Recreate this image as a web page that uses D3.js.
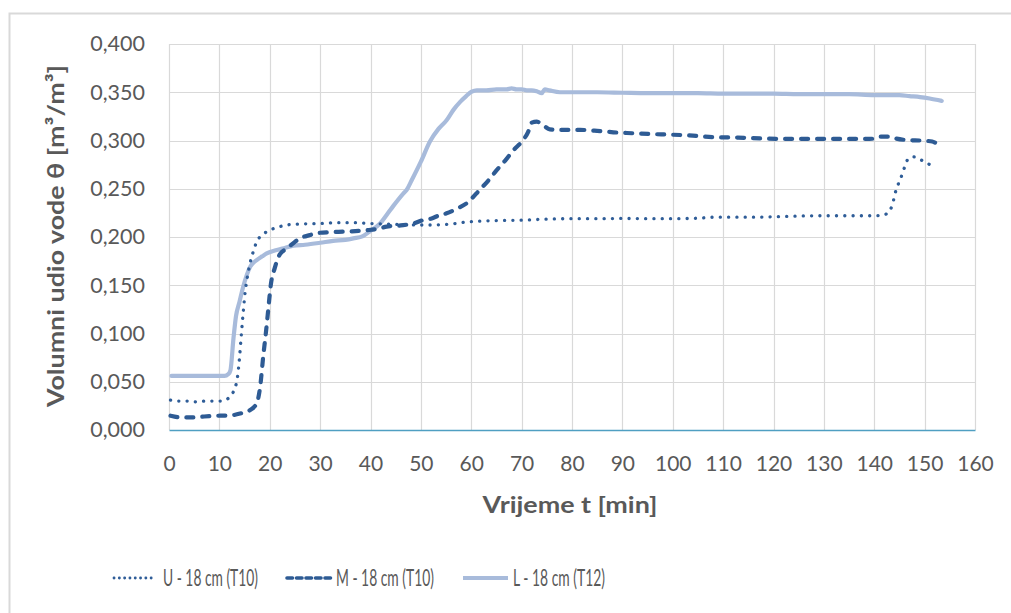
<!DOCTYPE html>
<html><head><meta charset="utf-8">
<script src="https://cdn.jsdelivr.net/npm/d3@7"></script>
<style>
html,body{margin:0;padding:0;background:#fff;}
svg{display:block;}
text{font-family:Lato,"Open Sans",sans-serif;fill:#595959;}
</style></head>
<body>
<svg id="chart" width="1011" height="613"></svg>
<script>
// ---- data ----
const xTicks = [0,10,20,30,40,50,60,70,80,90,100,110,120,130,140,150,160];
const yTicks = [0,0.05,0.1,0.15,0.2,0.25,0.3,0.35,0.4];
const seriesNames = ["U - 18 cm (T10)","M - 18 cm (T10)","L - 18 cm (T12)"];
const xTitle = "Vrijeme t [min]";
const yTitle = "Volumni udio vode θ [m³/m³]";

const uT = [0.3,2,4,5.5,7,9,10.5,11.8,12.8,13.6,14.0,14.3,14.7,15.1,15.6,16.1,16.8,17.4,18.5,20,21.5,23.4,26,30,33,37,40,43,47,51,55,60,65,70,75,80,85,90,95,100,105,108,112,116,120,124,128,132,136,140,141.5,142.6,143.5,144.4,145.2,146,146.6,147.2,147.8,148.5,149.2,150,150.7,151.4,152.1];
const uV = [0.031,0.030,0.030,0.029,0.030,0.030,0.030,0.033,0.040,0.055,0.075,0.095,0.120,0.142,0.160,0.173,0.186,0.195,0.202,0.207,0.210,0.2124,0.2135,0.2140,0.2148,0.2148,0.2140,0.2135,0.2128,0.2124,0.2130,0.2160,0.2170,0.2175,0.2185,0.2190,0.2190,0.2192,0.2190,0.2190,0.2195,0.2205,0.2205,0.2205,0.2210,0.2215,0.2220,0.2220,0.2220,0.2220,0.2225,0.2245,0.232,0.250,0.260,0.272,0.280,0.282,0.283,0.282,0.280,0.278,0.276,0.274,0.272];

const mT = [0.3,2.5,4.8,7,10.1,12,14.1,16.1,17.4,18.1,18.7,19.3,19.8,20.2,21,22,23.4,25,26,28,29.3,32,34.6,37,39.2,41,43.2,46,48.5,50.5,52,53.8,55.1,57,59.1,61.7,63.3,65,66.7,68.4,70.3,71.3,72,73,73.6,74.5,75.6,78,81.6,85,88.2,92,95.5,100,104,108.7,113,118,123.3,128,133,138.5,140,141.1,143.1,144.4,146.4,149.7,151.5,152.4,153.4];
const mV = [0.0148,0.013,0.013,0.014,0.0148,0.015,0.017,0.0207,0.0276,0.045,0.076,0.104,0.130,0.150,0.168,0.182,0.188,0.195,0.1986,0.202,0.204,0.205,0.2055,0.206,0.207,0.208,0.2107,0.212,0.214,0.2176,0.219,0.2228,0.2245,0.229,0.235,0.249,0.258,0.269,0.279,0.290,0.3005,0.309,0.3185,0.3195,0.3185,0.315,0.3115,0.311,0.311,0.310,0.3085,0.3075,0.3067,0.306,0.305,0.3033,0.303,0.302,0.3016,0.3016,0.3016,0.3016,0.302,0.304,0.304,0.302,0.3005,0.2998,0.299,0.297,0.2953];

const lT = [0.5,3,6,9,11,11.8,12.2,12.8,13.3,14.0,14.7,15.4,16.1,17.4,18.5,19.4,21,22.5,24.7,27,30,32.6,35,36.6,38.5,39.9,41.9,43.2,44.5,46.5,47.2,48.2,50,51.8,53.5,55.1,56.5,57.8,59,60.1,61.1,63,65,67,68,69,70,71,72,73,74,74.6,75.5,77.6,80,85,90,95,100,105,110,115,120,125,130,135,140,145,147,149.1,151,153.4];
const lV = [0.056,0.056,0.056,0.056,0.056,0.058,0.062,0.095,0.118,0.133,0.148,0.160,0.169,0.176,0.180,0.183,0.186,0.188,0.191,0.192,0.194,0.196,0.197,0.1986,0.201,0.206,0.214,0.2228,0.232,0.245,0.249,0.259,0.278,0.299,0.312,0.321,0.332,0.340,0.346,0.3506,0.352,0.352,0.353,0.353,0.354,0.353,0.353,0.352,0.352,0.351,0.349,0.353,0.352,0.350,0.350,0.350,0.3495,0.349,0.349,0.349,0.3485,0.3485,0.3485,0.348,0.348,0.348,0.347,0.347,0.346,0.345,0.3435,0.341];

// ---- drawing ----
const svg = d3.select("#chart");
const plot = {left:169, right:975, top:44, bottom:430};
const x = d3.scaleLinear().domain([0,160]).range([plot.left, plot.right]);
const y = d3.scaleLinear().domain([0,0.4]).range([plot.bottom, plot.top]);

// outer chart border
svg.append("rect").attr("x",9.5).attr("y",13.5).attr("width",1100).attr("height",700)
  .attr("fill","#fff").attr("stroke","#d9d9d9").attr("stroke-width",2);

// gridlines
const grid = svg.append("g");
grid.selectAll("line.v").data(xTicks).join("line").attr("class","v")
  .attr("x1",d=>Math.round(x(d))+0.5).attr("x2",d=>Math.round(x(d))+0.5)
  .attr("y1",plot.top).attr("y2",plot.bottom)
  .attr("stroke","#d9d9d9").attr("stroke-width",1.2);
grid.selectAll("line.h").data(yTicks.filter(d=>d>0)).join("line").attr("class","h")
  .attr("x1",plot.left).attr("x2",plot.right)
  .attr("y1",d=>Math.round(y(d))+0.5).attr("y2",d=>Math.round(y(d))+0.5)
  .attr("stroke","#d9d9d9").attr("stroke-width",1.2);

// axes
const fmtY = v => d3.format(".3f")(v).replace(".",",");
const xAxis = svg.append("g").attr("transform",`translate(0,${plot.bottom})`)
  .call(d3.axisBottom(x).tickValues(xTicks).tickSize(0).tickPadding(26).tickFormat(d3.format("d")));
xAxis.select(".domain").attr("stroke","#4f9fc2").attr("stroke-width",1.5);
xAxis.selectAll("text").style("font-size","21px").attr("fill","#595959").attr("font-family","Lato");

const yAxis = svg.append("g").attr("transform",`translate(${plot.left},0)`)
  .call(d3.axisLeft(y).tickValues(yTicks).tickSize(0).tickPadding(24).tickFormat(fmtY));
yAxis.select(".domain").remove();
yAxis.selectAll("text").style("font-size","21.5px").attr("fill","#595959").attr("font-family","Lato");

// titles
svg.append("text").attr("x",570).attr("y",513).attr("text-anchor","middle")
  .attr("textLength",175).attr("lengthAdjust","spacingAndGlyphs")
  .style("font-size","23px").style("font-weight","bold").text(xTitle);
svg.append("text").attr("transform","translate(64,236) rotate(-90)").attr("text-anchor","middle")
  .attr("textLength",342).attr("lengthAdjust","spacingAndGlyphs")
  .style("font-size","23.5px").style("font-weight","bold").text(yTitle);

// series
const styles = [
  {color:"#2f5d98", width:3.3, dash:"0.1,8.2", cap:"round", legDash:"0.1,5.2"},
  {color:"#2e5b94", width:4.2, dash:"7,9", cap:"round", legDash:"5.5,4"},
  {color:"#a8bbdb", width:4.2, dash:null, cap:"round", legDash:null}
];
const series = [
  {name:seriesNames[0], pts:uT.map((t,i)=>[t,uV[i]])},
  {name:seriesNames[1], pts:mT.map((t,i)=>[t,mV[i]])},
  {name:seriesNames[2], pts:lT.map((t,i)=>[t,lV[i]])}
];
const line = d3.line().x(d=>x(d[0])).y(d=>y(d[1])).curve(d3.curveMonotoneX);
[2,1,0].forEach(i=>{
  const s = series[i], st = styles[i];
  svg.append("path").attr("d",line(s.pts)).attr("fill","none")
    .attr("stroke",st.color).attr("stroke-width",st.width)
    .attr("stroke-linecap",st.cap).attr("stroke-linejoin","round")
    .attr("stroke-dasharray",st.dash);
});

// legend
const legY = 578;
const legItems = [
  {x1:114,x2:155,tx:163,tw:95},
  {x1:287,x2:332,tx:336,tw:98},
  {x1:463,x2:508,tx:513,tw:92}
];
legItems.forEach((li,i)=>{
  const st = styles[i];
  svg.append("line").attr("x1",li.x1).attr("x2",li.x2).attr("y1",legY).attr("y2",legY)
    .attr("stroke",st.color).attr("stroke-width",i===0?2.8:(i===1?3.6:3.8))
    .attr("stroke-linecap",i===2?"butt":"round").attr("stroke-dasharray",st.legDash);
  svg.append("text").attr("x",li.tx).attr("y",legY).attr("dy","0.36em")
    .attr("textLength",li.tw).attr("lengthAdjust","spacingAndGlyphs")
    .style("font-size","23px").text(series[i].name);
});
</script>
</body></html>
